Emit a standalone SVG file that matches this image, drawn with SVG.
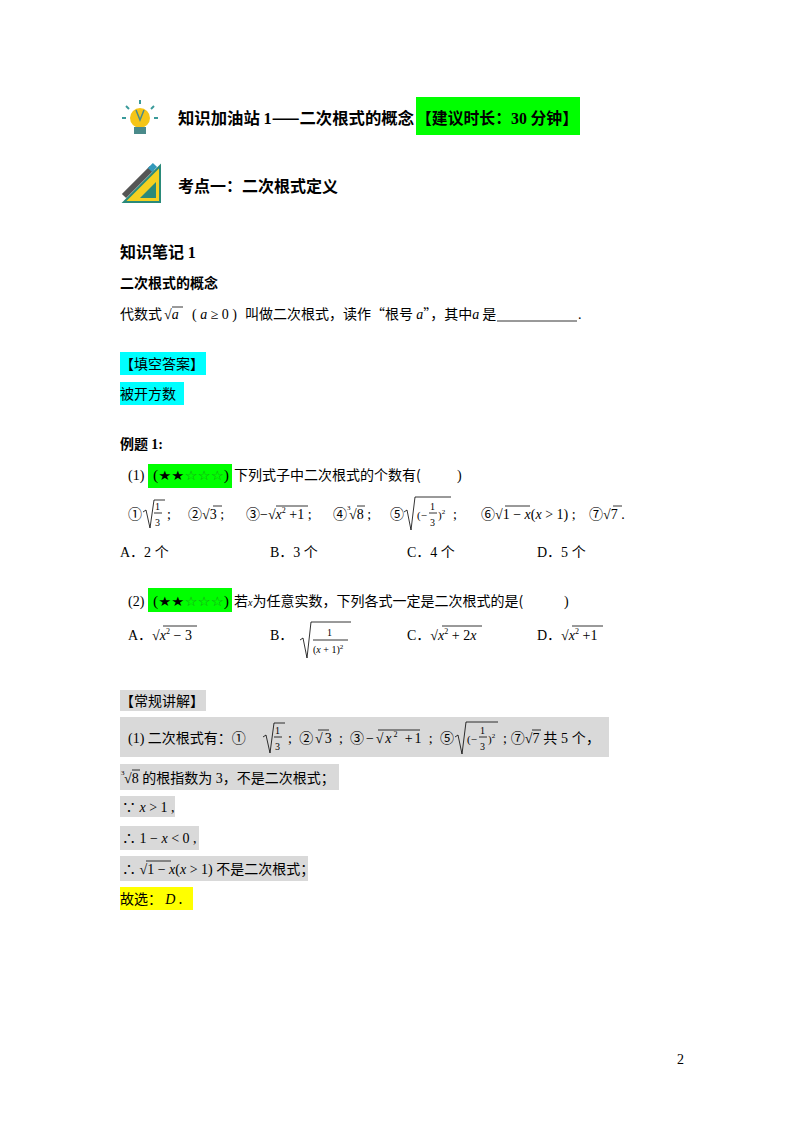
<svg xmlns="http://www.w3.org/2000/svg" width="800" height="1132" viewBox="0 0 800 1132">
<style>
.cn{font-family:"Noto Sans CJK SC","Liberation Sans",sans-serif;font-size:14px;fill:#000}
.b{font-weight:bold}
.m{font-family:"Liberation Serif","Noto Sans CJK SC",serif;font-size:14px;fill:#000}
.i{font-style:italic}
.s{font-size:10px}
.v{stroke:#000;stroke-width:0.8;fill:none}
.st{font-family:"DejaVu Sans",sans-serif;font-size:13px}
</style>
<rect width="800" height="1132" fill="#fff"/>
<g id="title">
<g id="bulb">
<circle cx="140" cy="118" r="10" fill="#f5c518"/>
<rect x="134" y="127" width="12" height="7" fill="#4a8a8a"/>
<path d="M136 110 L140 120 L144 110" stroke="#4a8a8a" stroke-width="1.5" fill="none"/>
<g stroke="#3a9a9a" stroke-width="2"><line x1="140" y1="100" x2="140" y2="104"/><line x1="126" y1="106" x2="129" y2="109"/><line x1="154" y1="106" x2="151" y2="109"/><line x1="122" y1="118" x2="126" y2="118"/><line x1="154" y1="118" x2="158" y2="118"/></g>
</g>
<rect x="416" y="97" width="164" height="38" fill="#00ff00"/>
<text x="178" y="124" class="cn b" style="font-size:16px" textLength="236" lengthAdjust="spacingAndGlyphs">知识加油站 <tspan class="m b" style="font-size:16px">1</tspan>——二次根式的概念</text>
<text x="416" y="124" class="cn b" style="font-size:16px" textLength="162" lengthAdjust="spacingAndGlyphs">【建议时长：<tspan class="m b" style="font-size:16px">30</tspan> 分钟】</text>
</g>
<g id="kaodian">
<polygon points="124,202 160,166 160,202" fill="#f5d020" stroke="#2a8a7a" stroke-width="2"/>
<polygon points="140,198 156,182 156,198" fill="#2a8a7a"/>
<line x1="124" y1="196" x2="152" y2="168" stroke="#555" stroke-width="6"/>
<line x1="150" y1="170" x2="155" y2="165" stroke="#39b" stroke-width="6"/>
<text x="178" y="192" class="cn b" style="font-size:16px">考点一：二次根式定义</text>
</g>
<g id="notes">
<text x="120" y="258" class="cn b" style="font-size:16px">知识笔记 <tspan class="m b" style="font-size:16px">1</tspan></text>
<text x="120" y="288" class="cn b">二次根式的概念</text>
<text x="120" y="319" class="cn">代数式</text>
<text x="164" y="319" class="m">√<tspan class="i">a</tspan></text>
<line x1="172" y1="307" x2="183" y2="307" class="v"/>
<text x="192" y="319" class="m">(  <tspan class="i">a</tspan> ≥ 0 )</text>
<text x="245" y="319" class="cn">叫做二次根式，读作“根号 <tspan class="m i">a</tspan>”，其中<tspan class="m i">a</tspan> 是</text>
<line x1="497" y1="321" x2="577" y2="321" stroke="#000" stroke-width="0.8"/>
<text x="578" y="319" class="m">.</text>
<rect x="120" y="352" width="86" height="23" fill="#00ffff"/>
<text x="120" y="369" class="cn">【填空答案】</text>
<rect x="120" y="382" width="64" height="23" fill="#00ffff"/>
<text x="120" y="399" class="cn">被开方数</text>
</g>
<g id="example">
<text x="120" y="449" class="cn b">例题 <tspan class="m b">1:</tspan></text>
<rect x="148" y="464" width="84" height="24" fill="#00ff00"/>
<text x="128" y="480" class="m">(1)</text>
<text x="153" y="480" class="m" textLength="76" lengthAdjust="spacingAndGlyphs">(<tspan class="st">★★</tspan><tspan class="st" fill="#1a9a1a">☆☆☆</tspan>)</text>
<text x="234" y="480" class="cn">下列式子中二次根式的个数有(</text>
<text x="457" y="480" class="m">)</text>
<text x="128" y="519" class="m">①</text>
<path d="M143 512 L146 510 L150 528 L154 500 L165 500" class="v"/>
<text x="155" y="510" class="m s">1</text><line x1="154" y1="513" x2="162" y2="513" class="v"/><text x="155" y="526" class="m s">3</text>
<text x="167" y="519" class="m">;</text>
<text x="188" y="519" class="m">②√3 ;</text><line x1="213" y1="506" x2="222" y2="506" class="v"/>
<text x="246" y="519" class="m">③−√<tspan class="i">x</tspan><tspan style="font-size:8px" dy="-6">2</tspan><tspan dy="6"> +1 ;</tspan></text>
<line x1="276" y1="506" x2="308" y2="506" class="v"/>
<text x="333" y="519" class="m">④</text><text x="347" y="510" class="m" style="font-size:7px">3</text><text x="349" y="519" class="m">√8 ;</text>
<line x1="357" y1="506" x2="365" y2="506" class="v"/>
<text x="390" y="519" class="m">⑤</text>
<path d="M404 512 L407 510 L411 530 L415 497 L451 497" class="v"/>
<text x="417" y="519" class="m" style="font-size:11px">(−</text><text x="430" y="510" class="m s">1</text><line x1="429" y1="513" x2="437" y2="513" class="v"/><text x="430" y="526" class="m s">3</text><text x="438" y="519" class="m" style="font-size:11px">)<tspan style="font-size:7px" dy="-5">2</tspan></text>
<text x="453" y="519" class="m">;</text>
<text x="481" y="519" class="m">⑥√1 − <tspan class="i">x</tspan>(<tspan class="i">x</tspan> &gt; 1) ;</text>
<line x1="505" y1="506" x2="530" y2="506" class="v"/>
<text x="589" y="519" class="m">⑦√7 .</text><line x1="613" y1="506" x2="622" y2="506" class="v"/>
<text x="120" y="557" class="m">A．2 <tspan class="cn">个</tspan></text>
<text x="270" y="557" class="m">B．3 <tspan class="cn">个</tspan></text>
<text x="407" y="557" class="m">C．4 <tspan class="cn">个</tspan></text>
<text x="537" y="557" class="m">D．5 <tspan class="cn">个</tspan></text>
<rect x="148" y="588" width="84" height="24" fill="#00ff00"/>
<text x="128" y="606" class="m">(2)</text>
<text x="153" y="606" class="m" textLength="76" lengthAdjust="spacingAndGlyphs">(<tspan class="st">★★</tspan><tspan class="st" fill="#1a9a1a">☆☆☆</tspan>)</text>
<text x="234" y="606" class="cn">若<tspan class="m i" style="font-size:10px">x</tspan>为任意实数，下列各式一定是二次根式的是(</text>
<text x="564" y="606" class="m">)</text>
<text x="128" y="640" class="m">A．√<tspan class="i">x</tspan><tspan style="font-size:8px" dy="-6">2</tspan><tspan dy="6"> − 3</tspan></text>
<line x1="163" y1="626" x2="197" y2="626" class="v"/>
<text x="270" y="640" class="m">B．</text>
<path d="M300 640 L303 638 L307 658 L311 622 L351 622" class="v"/>
<text x="327" y="636" class="m s">1</text><line x1="313" y1="640" x2="348" y2="640" class="v"/><text x="313" y="653" class="m s">(<tspan class="i">x</tspan> + 1)<tspan style="font-size:7px" dy="-4">2</tspan></text>
<text x="407" y="640" class="m">C．√<tspan class="i">x</tspan><tspan style="font-size:8px" dy="-6">2</tspan><tspan dy="6"> + 2<tspan class="i">x</tspan></tspan></text>
<line x1="442" y1="626" x2="482" y2="626" class="v"/>
<text x="537" y="640" class="m">D．√<tspan class="i">x</tspan><tspan style="font-size:8px" dy="-6">2</tspan><tspan dy="6"> +1</tspan></text>
<line x1="572" y1="626" x2="603" y2="626" class="v"/>
</g>
<g id="solution">
<rect x="120" y="690" width="86" height="21" fill="#d9d9d9"/>
<text x="120" y="706" class="cn">【常规讲解】</text>
<rect x="120" y="717" width="489" height="40" fill="#d9d9d9"/>
<text x="128" y="743" class="m">(1) <tspan class="cn">二次根式有：①</tspan></text>
<path d="M263 737 L266 735 L270 753 L274 723 L285 723" class="v"/>
<text x="275" y="734" class="m s">1</text><line x1="274" y1="737" x2="282" y2="737" class="v"/><text x="275" y="750" class="m s">3</text>
<text x="288" y="743" class="m" textLength="166" lengthAdjust="spacing">; ②√3 ; ③−√<tspan class="i">x</tspan><tspan style="font-size:8px" dy="-6">2</tspan><tspan dy="6"> +1 ; ⑤</tspan></text>
<line x1="318" y1="730" x2="329" y2="730" class="v"/>
<line x1="378" y1="730" x2="420" y2="730" class="v"/>
<path d="M455 737 L458 735 L462 754 L466 722 L498 722" class="v"/>
<text x="467" y="743" class="m" style="font-size:11px">(−</text><text x="480" y="734" class="m s">1</text><line x1="479" y1="737" x2="487" y2="737" class="v"/><text x="480" y="750" class="m s">3</text><text x="488" y="743" class="m" style="font-size:11px">)<tspan style="font-size:7px" dy="-5">2</tspan></text>
<text x="503" y="743" class="m" textLength="97" lengthAdjust="spacing">; ⑦√7 <tspan class="cn">共</tspan> 5 <tspan class="cn">个，</tspan></text>
<line x1="532" y1="730" x2="541" y2="730" class="v"/>
<rect x="120" y="764" width="219" height="26" fill="#d9d9d9"/>
<text x="121" y="775" class="m" style="font-size:7px">3</text><text x="124" y="783" class="m">√8 <tspan class="cn">的根指数为</tspan> 3<tspan class="cn">，不是二次根式；</tspan></text>
<line x1="132" y1="770" x2="140" y2="770" class="v"/>
<rect x="120" y="796" width="55" height="21" fill="#d9d9d9"/>
<text x="122" y="812" class="m">∵ <tspan class="i">x</tspan> &gt; 1 ,</text>
<rect x="120" y="826" width="79" height="24" fill="#d9d9d9"/>
<text x="122" y="843" class="m">∴ 1 − <tspan class="i">x</tspan> &lt; 0 ,</text>
<rect x="120" y="856" width="188" height="25" fill="#d9d9d9"/>
<text x="122" y="874" class="m">∴ √1 − <tspan class="i">x</tspan>(<tspan class="i">x</tspan> &gt; 1) <tspan class="cn">不是二次根式；</tspan></text>
<line x1="146" y1="861" x2="171" y2="861" class="v"/>
<rect x="120" y="887" width="73" height="23" fill="#ffff00"/>
<text x="120" y="904" class="cn">故选： <tspan class="m i">D</tspan> .</text>
</g>
<text x="677" y="1064" class="m">2</text>
</svg>
